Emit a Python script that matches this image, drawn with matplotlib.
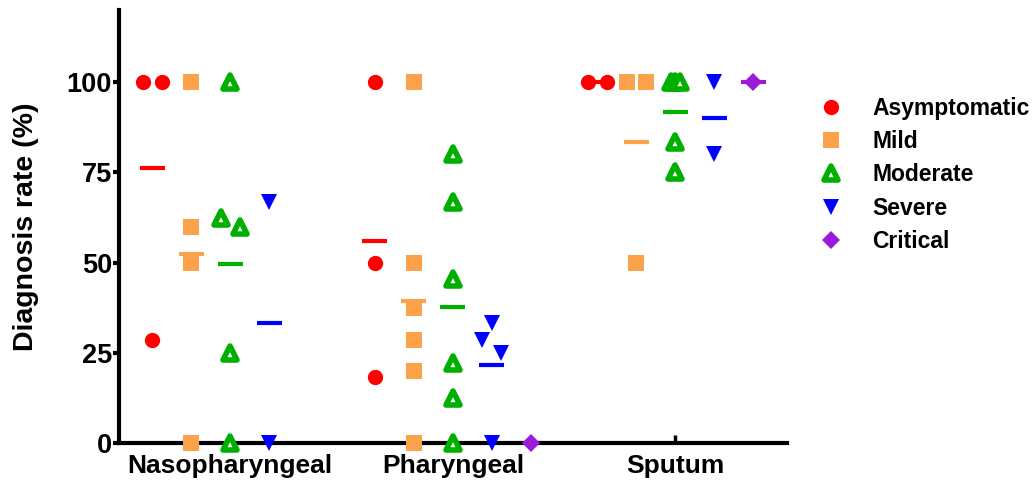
import numpy as np
import matplotlib.pyplot as plt
from matplotlib.lines import Line2D
from matplotlib.markers import MarkerStyle

plt.rcParams['font.family'] = ['Liberation Sans', 'DejaVu Sans']
plt.rcParams['font.weight'] = 'bold'

sites = ['Nasopharyngeal', 'Pharyngeal', 'Sputum']
severity = ['Asymptomatic', 'Mild', 'Moderate', 'Severe', 'Critical']

# diagnosis rate (%) per patient, one list per site
asymptomatic = [[100, 100, 28.6], [100, 50, 18.2], [100, 100]]
mild = [[100, 60, 50, 0], [100, 50, 37.5, 28.6, 20, 0], [100, 100, 50]]
moderate = [[100, 62.5, 60, 25, 0], [80, 66.7, 45.5, 22.2, 12.5, 0], [100, 100, 100, 83.3, 75]]
severe = [[66.7, 0], [33.3, 28.6, 25, 0], [100, 80]]
critical = [[], [0], [100]]

series = [asymptomatic, mild, moderate, severe, critical]
colors = ['#ff0000', '#fba24a', '#00b000', '#0000ff', '#9b1bd8']
markers = ['o', 's', MarkerStyle('^', joinstyle='round'), 'v', 'D']
msizes = [11, 12, 10, 12, 9]
open_marker = [False, False, True, False, False]


def spread(vals, tol=4, step=0.085):
    # push close values apart sideways, like a column scatter
    vals = np.asarray(vals, float)
    order = np.argsort(-vals, kind='stable')
    dx = np.zeros(len(vals))
    clusters = []
    for i in order:
        if clusters and abs(vals[clusters[-1][-1]] - vals[i]) < tol:
            clusters[-1].append(i)
        else:
            clusters.append([i])
    for c in clusters:
        n = len(c)
        st = step if n <= 2 else step / (n - 1) * 0.5
        for j, i in enumerate(c):
            dx[i] = (j - (n - 1) / 2) * st
    return dx


fig, ax = plt.subplots(figsize=(10.35, 4.82), dpi=100)
fig.subplots_adjust(left=0.115, right=0.760, bottom=0.081, top=0.979)

offsets = np.linspace(-0.35, 0.35, 5)
handles = []
for k, data in enumerate(series):
    c = colors[k]
    face = 'white' if open_marker[k] else c
    ew = 4 if open_marker[k] else 0
    for g, vals in enumerate(data):
        if not vals:
            continue
        x0 = g + offsets[k]
        ax.plot(x0 + spread(vals), vals, ls='none', marker=markers[k], ms=msizes[k],
                mfc=face, mec=c, mew=ew, clip_on=False, zorder=3)
        ax.hlines(np.mean(vals), x0 - 0.056, x0 + 0.056, color=c, lw=3, zorder=2)
    handles.append(Line2D([], [], ls='none', marker=markers[k], ms=msizes[k],
                          mfc=face, mec=c, mew=ew, label=severity[k]))

ax.set_xlim(-0.5, 2.5)
ax.set_ylim(0, 120)
ax.set_xticks(range(len(sites)))
ax.set_xticklabels(sites)
ax.set_yticks([0, 25, 50, 75, 100])
ax.tick_params(axis='y', direction='out', length=4, width=3, labelsize=19.5, pad=1)
ax.tick_params(axis='x', direction='in', length=6, width=2.5, labelsize=19, pad=8)
for s in ['top', 'right']:
    ax.spines[s].set_visible(False)
for s in ['left', 'bottom']:
    ax.spines[s].set_linewidth(3)
ax.set_ylabel('Diagnosis rate (%)', fontsize=20.5, fontweight='bold', labelpad=20)

fig.legend(handles=handles, loc='upper left', bbox_to_anchor=(0.77, 0.842),
           frameon=False, fontsize=16.5, labelspacing=0.45, handletextpad=1.2,
           handlelength=1.2)

fig.savefig('out.png', dpi=100)
